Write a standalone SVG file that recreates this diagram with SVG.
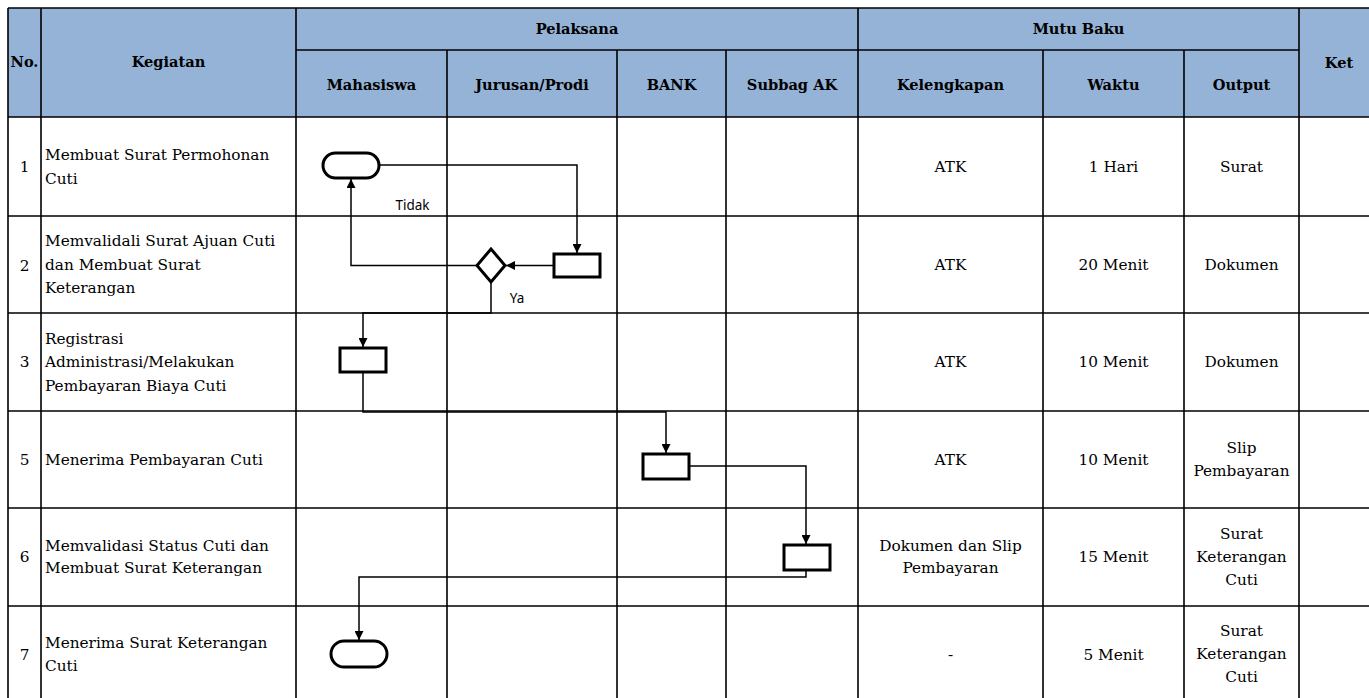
<svg xmlns="http://www.w3.org/2000/svg" width="1369" height="698" viewBox="0 0 1369 698">
<style>
.bg{fill:#ffffff}
.hdr{fill:#95b3d7}
.grid{stroke:#000;stroke-width:1.6;fill:none}
.th{font-family:"DejaVu Serif","Liberation Serif",serif;font-weight:bold;font-size:14.6px;fill:#000;text-anchor:middle}
.td{font-family:"DejaVu Serif","Liberation Serif",serif;font-size:15.3px;fill:#000}
.c{text-anchor:middle}
.shape{fill:#fff;stroke:#000;stroke-width:3}
.conn{fill:none;stroke:#000;stroke-width:1.5}
.lbl{font-family:"Noto Sans","Open Sans",sans-serif;font-size:13.5px;fill:#000;text-anchor:middle}
</style>
<defs>
<marker id="arr" markerUnits="userSpaceOnUse" markerWidth="9" markerHeight="9" refX="9" refY="4.5" orient="auto">
<path d="M0,0 L9,4.5 L0,9 z" fill="#000"/>
</marker>
</defs>
<rect class="bg" x="0" y="0" width="1369" height="698"/>
<g id="table">
<rect class="hdr" x="8" y="8" width="1370" height="109"/>
<g class="grid">
<path d="M8,8 H1378 M8,8 V698 M41,8 V698 M296,8 V698 M858,8 V698 M1299,8 V698"/>
<path d="M296,50 H1299"/>
<path d="M447,50 V698 M617,50 V698 M726,50 V698 M1043,50 V698 M1184,50 V698"/>
<path d="M8,117 H1378 M8,216 H1378 M8,313 H1378 M8,411 H1378 M8,508 H1378 M8,606 H1378"/>
</g>
</g>
<g id="header">
<text class="th" x="24.5" y="67">No.</text>
<text class="th" x="168.5" y="67">Kegiatan</text>
<text class="th" x="577" y="34">Pelaksana</text>
<text class="th" x="1078.5" y="34">Mutu Baku</text>
<text class="th" x="1339" y="68">Ket</text>
<text class="th" x="371.5" y="90">Mahasiswa</text>
<text class="th" x="532" y="90">Jurusan/Prodi</text>
<text class="th" x="671.5" y="90">BANK</text>
<text class="th" x="792" y="90">Subbag AK</text>
<text class="th" x="950.5" y="90">Kelengkapan</text>
<text class="th" x="1113.5" y="90">Waktu</text>
<text class="th" x="1241.5" y="90">Output</text>
</g>
<g id="rows">
<g id="row1">
<text class="td c" x="24.5" y="172">1</text>
<text class="td" x="45" y="160">Membuat Surat Permohonan</text>
<text class="td" x="45" y="184">Cuti</text>
<text class="td c" x="950.5" y="172">ATK</text>
<text class="td c" x="1113.5" y="172">1 Hari</text>
<text class="td c" x="1241.5" y="172">Surat</text>
</g>
<g id="row2">
<text class="td c" x="24.5" y="271">2</text>
<text class="td" x="45" y="246">Memvalidali Surat Ajuan Cuti</text>
<text class="td" x="45" y="270">dan Membuat Surat</text>
<text class="td" x="45" y="293">Keterangan</text>
<text class="td c" x="950.5" y="270">ATK</text>
<text class="td c" x="1113.5" y="270">20 Menit</text>
<text class="td c" x="1241.5" y="270">Dokumen</text>
</g>
<g id="row3">
<text class="td c" x="24.5" y="367">3</text>
<text class="td" x="45" y="344">Registrasi</text>
<text class="td" x="45" y="367">Administrasi/Melakukan</text>
<text class="td" x="45" y="391">Pembayaran Biaya Cuti</text>
<text class="td c" x="950.5" y="367">ATK</text>
<text class="td c" x="1113.5" y="367">10 Menit</text>
<text class="td c" x="1241.5" y="367">Dokumen</text>
</g>
<g id="row5">
<text class="td c" x="24.5" y="465">5</text>
<text class="td" x="45" y="465">Menerima Pembayaran Cuti</text>
<text class="td c" x="950.5" y="465">ATK</text>
<text class="td c" x="1113.5" y="465">10 Menit</text>
<text class="td c" x="1241.5" y="453">Slip</text>
<text class="td c" x="1241.5" y="476">Pembayaran</text>
</g>
<g id="row6">
<text class="td c" x="24.5" y="562">6</text>
<text class="td" x="45" y="551">Memvalidasi Status Cuti dan</text>
<text class="td" x="45" y="573">Membuat Surat Keterangan</text>
<text class="td c" x="950.5" y="551">Dokumen dan Slip</text>
<text class="td c" x="950.5" y="573">Pembayaran</text>
<text class="td c" x="1113.5" y="562">15 Menit</text>
<text class="td c" x="1241.5" y="539">Surat</text>
<text class="td c" x="1241.5" y="562">Keterangan</text>
<text class="td c" x="1241.5" y="585">Cuti</text>
</g>
<g id="row7">
<text class="td c" x="24.5" y="660">7</text>
<text class="td" x="45" y="648">Menerima Surat Keterangan</text>
<text class="td" x="45" y="671">Cuti</text>
<text class="td c" x="950.5" y="660">-</text>
<text class="td c" x="1113.5" y="660">5 Menit</text>
<text class="td c" x="1241.5" y="636">Surat</text>
<text class="td c" x="1241.5" y="659">Keterangan</text>
<text class="td c" x="1241.5" y="682">Cuti</text>
</g>
</g>
<g id="connectors">
<path class="conn" d="M379,165 H577 V253" marker-end="url(#arr)"/>
<path class="conn" d="M554,265.5 H506" marker-end="url(#arr)"/>
<path class="conn" d="M477,265.5 H351 V179" marker-end="url(#arr)"/>
<path class="conn" d="M491,282 V313 H363 V347" marker-end="url(#arr)"/>
<path class="conn" d="M363,372 V412 H666 V453" marker-end="url(#arr)"/>
<path class="conn" d="M689,466 H806 V544" marker-end="url(#arr)"/>
<path class="conn" d="M806,570 V577 H359 V640" marker-end="url(#arr)"/>
</g>
<g id="label-tidak">
<rect x="382" y="187" width="64" height="28" fill="#fff"/>
<text class="lbl" x="412.5" y="210">Tidak</text>
</g>
<g id="label-ya">
<text class="lbl" x="517" y="303">Ya</text>
</g>
<g id="n1-start"><rect class="shape" x="323" y="153" width="56" height="25" rx="12.5"/></g>
<g id="n2-validasi"><rect class="shape" x="554" y="254" width="46" height="23"/></g>
<g id="n2-decision"><path class="shape" d="M491,249 L505,265.5 L491,282 L477,265.5 Z"/></g>
<g id="n3-registrasi"><rect class="shape" x="340" y="348" width="46" height="24"/></g>
<g id="n5-bank"><rect class="shape" x="643" y="454" width="46" height="25"/></g>
<g id="n6-subbag"><rect class="shape" x="784" y="545" width="46" height="25"/></g>
<g id="n7-end"><rect class="shape" x="331" y="641" width="56" height="26" rx="13"/></g>
</svg>
